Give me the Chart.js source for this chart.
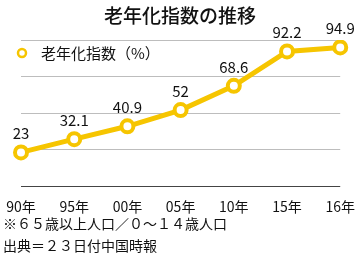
<!DOCTYPE html>
<html>
<head>
<meta charset="utf-8">
<script src="https://cdn.jsdelivr.net/npm/chart.js@4/dist/chart.umd.min.js"></script>
<style>
html,body{margin:0;padding:0;background:#fff;}
#wrap{position:relative;width:359px;height:264px;}
</style>
</head>
<body>
<div id="wrap"><canvas id="c" width="359" height="264"></canvas></div>
<script>
const categories = ["90年","95年","00年","05年","10年","15年","16年"];
const values = [23, 32.1, 40.9, 52, 68.6, 92.2, 94.9];
const yTicks = [0, 25, 50, 75, 100];
const titleText = "老年化指数の推移";
const seriesLabel = "老年化指数（%）";
const notes = ["※６５歳以上人口／０～１４歳人口", "出典＝２３日付中国時報"];

const FONT = '"Noto Sans CJK JP", "Noto Sans", sans-serif';
const YELLOW = '#F6C500';

const extras = {
  id: 'extras',
  afterDraw(chart) {
    const ctx = chart.ctx;
    ctx.save();
    // title
    ctx.fillStyle = '#111';
    ctx.font = '500 19px ' + FONT;
    ctx.textAlign = 'center';
    ctx.textBaseline = 'middle';
    ctx.fillText(titleText, 180, 16);
    // legend
    ctx.beginPath();
    ctx.arc(22, 53, 4, 0, Math.PI * 2);
    ctx.fillStyle = '#fff';
    ctx.fill();
    ctx.lineWidth = 2.5;
    ctx.strokeStyle = YELLOW;
    ctx.stroke();
    ctx.fillStyle = '#111';
    ctx.font = '15px ' + FONT;
    ctx.textAlign = 'left';
    ctx.fillText(chart.data.datasets[0].label, 41, 53);
    // notes
    ctx.font = '14px ' + FONT;
    ctx.fillText(notes[0], 3, 224);
    ctx.fillText(notes[1], 3, 246);
    ctx.restore();
  },
  afterDatasetsDraw(chart) {
    const ctx = chart.ctx;
    const meta = chart.getDatasetMeta(0);
    ctx.save();
    ctx.fillStyle = '#111';
    ctx.font = '15px ' + FONT;
    ctx.textAlign = 'center';
    ctx.textBaseline = 'middle';
    meta.data.forEach((pt, i) => {
      ctx.fillText(String(chart.data.datasets[0].data[i]), pt.x, pt.y - 19);
    });
    ctx.restore();
  }
};

new Chart(document.getElementById('c'), {
  type: 'line',
  data: {
    labels: categories,
    datasets: [{
      label: seriesLabel,
      data: values,
      borderColor: YELLOW,
      borderWidth: 5,
      pointRadius: 6,
      pointBorderWidth: 4,
      pointBackgroundColor: '#fff',
      pointBorderColor: YELLOW,
      tension: 0
    }]
  },
  options: {
    responsive: false,
    animation: false,
    layout: { padding: { top: 40, right: 18, left: 0, bottom: 0 } },
    plugins: { legend: { display: false }, title: { display: false }, tooltip: { enabled: false } },
    scales: {
      x: {
        offset: false,
        grid: { display: false },
        border: { display: false },
        ticks: { color: '#111', font: { size: 14, family: FONT }, padding: 4, maxRotation: 0, autoSkip: false },
        afterFit(s) { s.height = 78; }
      },
      y: {
        min: 0, max: 100,
        afterBuildTicks(s) { s.ticks = yTicks.map(v => ({ value: v })); },
        ticks: { display: false },
        border: { display: false },
        grid: {
          drawTicks: false,
          color: ctx => ctx.tick && ctx.tick.value === 0 ? '#444' : '#bdbdbd',
          lineWidth: 1
        },
        afterFit(s) { s.width = 21; }
      }
    }
  },
  plugins: [extras]
});
</script>
</body>
</html>
